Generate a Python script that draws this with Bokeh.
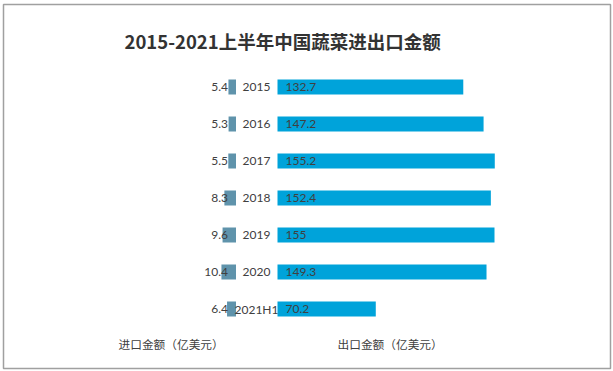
from bokeh.plotting import figure
from bokeh.models import Range1d, ColumnDataSource
from bokeh.core.properties import value
from bokeh.embed import file_html
from bokeh.resources import INLINE

# ---- data ----
years = ["2015", "2016", "2017", "2018", "2019", "2020", "2021H1"]
imports = [5.4, 5.3, 5.5, 8.3, 9.6, 10.4, 6.4]
exports = [132.7, 147.2, 155.2, 152.4, 155, 149.3, 70.2]
title_text = "2015-2021上半年中国蔬菜进出口金额"
import_label = "进口金额（亿美元）"
export_label = "出口金额（亿美元）"

# ---- layout (picture pixels -> data units) ----
W, H = 613, 371
FR_L, FR_T, FR_R, FR_B = 3, 4, 610, 368   # frame (outlined box) in picture px
PX_PER_UNIT = 1.4          # horizontal scale, pixels per 亿美元
ORIGIN_PX = 277            # x where export bars start
ROW0_PX = 86.5             # y of first row centre
ROW_STEP = 37.0            # pixels between rows

def dx(px):
    return (px - ORIGIN_PX) / PX_PER_UNIT

def dy(py):
    return (py - ROW0_PX) / ROW_STEP

GAP = ORIGIN_PX - 235.5    # pixel gap between import bar end and export start
gap_u = GAP / PX_PER_UNIT

idx = list(range(len(years)))
src = ColumnDataSource(dict(
    y=idx,
    years=years,
    imp=imports,
    exp=exports,
    imp_left=[-gap_u - v for v in imports],
    imp_right=[-gap_u] * len(imports),
    exp_txt=[("%g" % v) for v in exports],
    imp_txt=[("%g" % v) for v in imports],
))

p = figure(width=W, height=H, output_backend="svg", toolbar_location=None,
           x_range=Range1d(dx(FR_L), dx(FR_R)),
           y_range=Range1d(dy(FR_B), dy(FR_T)),
           min_border_left=FR_L, min_border_top=FR_T,
           min_border_right=W - FR_R, min_border_bottom=H - FR_B)
p.axis.visible = False
p.grid.visible = False
p.outline_line_color = "#a0a0a0"
p.outline_line_width = 1.5
p.background_fill_color = "white"
p.border_fill_color = "white"

bar_h = 15 / ROW_STEP
p.hbar(y="y", left=0, right="exp", height=bar_h, source=src,
       fill_color="#00A3DA", line_color=None)
p.hbar(y="y", left="imp_left", right="imp_right", height=bar_h, source=src,
       fill_color="#5F93AB", line_color=None)

font = value("Lato")
p.text(x=dx(285), y="y", text="exp_txt", source=src, text_font=font,
       text_font_size="12px", text_color="#404040",
       text_align="left", text_baseline="middle")
p.text(x=dx(256), y="y", text="years", source=src, text_font=font,
       text_font_size="12px", text_color="#404040",
       text_align="center", text_baseline="middle")
p.text(x=dx(227.5), y="y", text="imp_txt", source=src, text_font=font,
       text_font_size="12px", text_color="#404040",
       text_align="right", text_baseline="middle")

p.text(x=[dx(124)], y=[dy(40.5)], text=[title_text],
       text_font=value("Noto Sans CJK SC"), text_font_style="bold",
       text_font_size="18.5px", text_color="#333333",
       text_align="left", text_baseline="middle")

p.text(x=[dx(118), dx(337)], y=[dy(343), dy(343)],
       text=[import_label, export_label],
       text_font=value("Noto Sans CJK SC"), text_font_size="11.7px",
       text_color="#404040", text_align="left", text_baseline="middle")

open("out.html", "w").write(file_html(p, INLINE))
